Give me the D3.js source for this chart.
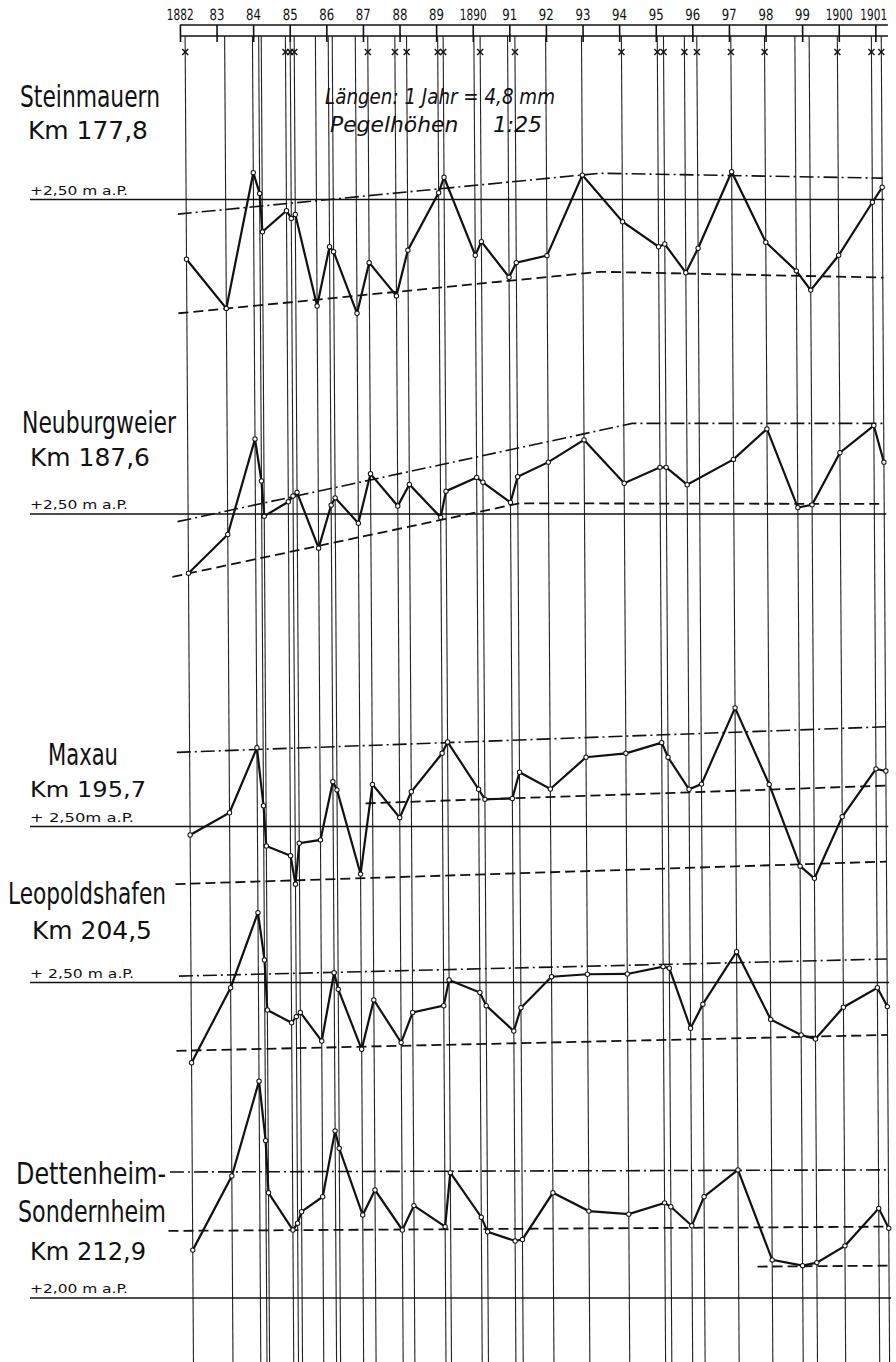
<!DOCTYPE html>
<html>
<head>
<meta charset="utf-8">
<script src="https://cdn.jsdelivr.net/npm/d3@7"></script>
<style>
body { margin: 0; background: #fff; }
svg { display: block; }
text { font-family: "DejaVu Sans Condensed", "Liberation Sans Narrow", sans-serif; fill: #111; }
</style>
</head>
<body>
<svg id="chart"></svg>
<script>

// data (water levels in cm a.P.)
const YEARS = [1882, 1883, 1884, 1885, 1886, 1887, 1888, 1889, 1890, 1891,
	1892, 1893, 1894, 1895, 1896, 1897, 1898, 1899, 1900, 1901];
const YEAR_LABELS = ['1882', '83', '84', '85', '86', '87', '88', '89', '1890', '91',
	'92', '93', '94', '95', '96', '97', '98', '99', '1900', '1901'];

const DATES = [1882.14, 1883.22, 1883.98, 1884.15, 1884.22, 1884.88, 1885.01, 1885.12,
	1885.70, 1886.05, 1886.16, 1886.79, 1887.13, 1887.87, 1888.19, 1889.04, 1889.19,
	1890.03, 1890.20, 1890.95, 1891.15, 1891.99, 1892.97, 1894.06, 1895.04, 1895.21,
	1895.78, 1896.12, 1897.05, 1897.97, 1898.80, 1899.19, 1899.96, 1900.89, 1901.16];
const MARK_DATES = [1882.14, 1884.88, 1885.01, 1885.12, 1887.13, 1887.87, 1888.19,
	1889.04, 1889.19, 1890.20, 1891.15, 1894.06, 1895.04, 1895.21, 1895.78, 1896.12,
	1897.05, 1897.97, 1899.96, 1900.89, 1901.16];

const STEINMAUERN = [230.4, 214.3, 258.8, 252.0, 239.4, 246.3, 243.8, 245.1, 215.1, 234.5,
	232.9, 212.7, 229.3, 218.4, 233.4, 252.2, 257.3, 231.7, 236.2, 224.5, 229.3, 231.6,
	258.0, 242.7, 234.5, 235.4, 226.0, 234.0, 259.1, 236.0, 226.6, 220.3, 231.7, 249.1, 254.0];
const NEUBURGWEIER = [230.6, 243.3, 274.6, 260.8, 249.3, 254.0, 255.9, 257.1, 238.8, 252.9,
	255.3, 247.0, 263.2, 252.6, 259.7, 248.9, 257.5, 262.0, 260.4, 253.8, 262.2, 267.0,
	274.3, 260.1, 265.3, 265.3, 259.6, null, 267.9, 277.9, 252.1, 253.0, 270.1, 279.0, 267.0];
const MAXAU = [247.2, 254.5, 275.8, 256.8, 243.6, 240.4, 231.1, 244.5, 245.6, 264.7,
	262.0, 234.4, 263.8, 252.9, 261.4, 274.0, 277.7, 262.2, 258.9, 259.2, 267.8, 262.3,
	272.7, 274.0, 277.5, 272.7, 262.2, 263.9, 288.9, 263.8, 237.0, 233.0, 253.2, 268.9, 268.2];
const LEOPOLDSHAFEN = [223.7, 248.3, 272.9, 257.4, 241.0, 236.8, 238.8, 240.2, 230.8, 253.2,
	247.8, 228.1, 244.3, 230.3, 240.2, 242.4, 250.8, 246.7, 242.4, 234.1, 241.7, 251.9,
	252.7, 252.8, 255.2, 254.7, 235.0, 242.9, 260.1, 237.9, 232.8, 231.5, 241.9, 248.3, 242.1];
const DETTENHEIM = [215.7, 240.0, 271.1, 251.6, 234.5, 222.3, 224.5, 228.3, 233.2, 254.8,
	249.1, 227.2, 235.4, 222.3, 230.3, 223.4, 241.1, 226.5, 221.7, 218.7, 219.2, 234.5,
	228.5, 227.5, 231.2, 229.9, 223.7, 233.2, 242.0, 212.5, 210.6, 211.6, 217.1, 229.4, 222.9];

// envelope lines [year, cm]
const STEIN_HIGH = [[1881.91, 245.2], [1893.45, 258.6], [1901.18, 257.0]];
const STEIN_LOW = [[1881.91, 212.7], [1893.45, 226.3], [1901.18, 224.4]];
const NEUB_HIGH = [[1881.85, 247.5], [1894.29, 279.7], [1901.17, 279.7]];
const NEUB_LOW = [[1881.70, 229.4], [1891.19, 253.5], [1901.17, 253.3]];
const MAXAU_HIGH = [[1881.79, 274.3], [1901.16, 282.7]];
const MAXAU_MID = [[1886.94, 257.6], [1901.16, 263.4]];
const MAXAU_LOW = [[1881.73, 231.1], [1901.16, 238.5]];
const LEOP_HIGH = [[1881.81, 252.1], [1901.16, 257.7]];
const LEOP_LOW = [[1881.73, 227.6], [1901.16, 232.8]];
const DETT_HIGH = [[1881.53, 241.3], [1901.09, 242.0]];
const DETT_LOW = [[1881.48, 222.0], [1901.13, 223.4]];
const DETT_LOW2 = [[1897.57, 210.3], [1901.13, 210.6]];

const REFS = [250, 250, 250, 250, 200];


// layout
const W = 896, H = 1362;
const SKEW = 0.0063, SKEW_Y0 = 40;
const PX_PER_CM = 3.05;
const REF_Y = [199.5, 514, 826.5, 982.5, 1298];
const DASH_DOT = '14,4,2,4', DASH = '10,5';

var stations = [
	{ values: STEINMAUERN, high: [STEIN_HIGH], low: [STEIN_LOW] },
	{ values: NEUBURGWEIER, high: [NEUB_HIGH], low: [NEUB_LOW] },
	{ values: MAXAU, high: [MAXAU_HIGH], low: [MAXAU_MID, MAXAU_LOW] },
	{ values: LEOPOLDSHAFEN, high: [LEOP_HIGH], low: [LEOP_LOW] },
	{ values: DETTENHEIM, high: [DETT_HIGH], low: [DETT_LOW, DETT_LOW2] }
];

var labels = [
	{ t: 'Steinmauern', x: 20, y: 107, s: 30, w: 140 },
	{ t: 'Km 177,8', x: 28, y: 139, s: 24, w: 120 },
	{ t: '+2,50 m a.P.', x: 30, y: 195, s: 12, w: 98 },
	{ t: 'Neuburgweier', x: 22, y: 433, s: 30, w: 154 },
	{ t: 'Km 187,6', x: 30, y: 466, s: 24, w: 120 },
	{ t: '+2,50 m a.P.', x: 30, y: 509, s: 12, w: 98 },
	{ t: 'Maxau', x: 48, y: 765, s: 30, w: 70 },
	{ t: 'Km 195,7', x: 30, y: 797, s: 22, w: 116 },
	{ t: '+ 2,50m a.P.', x: 30, y: 822, s: 12, w: 104 },
	{ t: 'Leopoldshafen', x: 8, y: 904, s: 30, w: 158 },
	{ t: 'Km 204,5', x: 32, y: 939, s: 24, w: 120 },
	{ t: '+ 2,50 m a.P.', x: 30, y: 978, s: 12, w: 104 },
	{ t: 'Dettenheim-', x: 16, y: 1184, s: 30, w: 150 },
	{ t: 'Sondernheim', x: 18, y: 1222, s: 30, w: 148 },
	{ t: 'Km 212,9', x: 30, y: 1260, s: 24, w: 116 },
	{ t: '+2,00 m a.P.', x: 30, y: 1293, s: 12, w: 98 }
];

var x = d3.scaleLinear().domain([1882, 1901]).range([180, 875.4]);

var svg = d3.select('#chart').attr('width', W).attr('height', H);
svg.append('rect').attr('width', W).attr('height', H).attr('fill', '#fff');

// whole drawing leans slightly to the right
var plot = svg.append('g')
	.attr('transform', 'matrix(1,0,' + SKEW + ',1,' + (-SKEW * SKEW_Y0) + ',0)');

// top time axis
plot.append('line').attr('x1', 180).attr('x2', 888).attr('y1', 25).attr('y2', 25)
	.attr('stroke', '#111').attr('stroke-width', 1.3);
plot.append('line').attr('x1', 180).attr('x2', 888).attr('y1', 36).attr('y2', 36)
	.attr('stroke', '#111').attr('stroke-width', 1.3);

var axis = d3.axisTop(x)
	.tickValues(YEARS)
	.tickFormat(function(d, i) { return YEAR_LABELS[i]; })
	.tickSize(17)
	.tickSizeOuter(0)
	.tickPadding(5);
var ax = plot.append('g').attr('transform', 'translate(0,42)').call(axis);
ax.select('.domain').remove();
ax.selectAll('line').attr('stroke', '#111').attr('stroke-width', 1.6);
ax.selectAll('text')
	.style('font-family', '"DejaVu Sans Condensed", sans-serif')
	.style('font-size', '15.5px')
	.attr('fill', '#111')
	.attr('dx', function(d, i) { return i == YEAR_LABELS.length - 1 ? -2 : 0; })
	.attr('textLength', function(d, i) { return YEAR_LABELS[i].length > 2 ? 27 : 15; })
	.attr('lengthAdjust', 'spacingAndGlyphs');

// vertical lines of the measurement dates
plot.append('g').selectAll('line')
	.data(DATES)
	.enter()
	.append('line')
	.attr('x1', function(d) { return x(d); })
	.attr('x2', function(d) { return x(d); })
	.attr('y1', 36)
	.attr('y2', H)
	.attr('stroke', '#222')
	.attr('stroke-width', 1.1);

// crosses under the axis
plot.append('g').selectAll('path')
	.data(MARK_DATES)
	.enter()
	.append('path')
	.attr('d', function(d) {
		var cx = x(d), cy = 52;
		return 'M' + (cx - 3) + ',' + (cy - 3) + 'L' + (cx + 3) + ',' + (cy + 3) +
			'M' + (cx - 3) + ',' + (cy + 3) + 'L' + (cx + 3) + ',' + (cy - 3);
	})
	.attr('stroke', '#111')
	.attr('stroke-width', 1.4);

// stations
stations.forEach(function(st, i) {
	var refY = REF_Y[i];
	var ref = REFS[i];
	var y = d3.scaleLinear().domain([ref, ref + 100]).range([refY, refY - 100 * PX_PER_CM]);

	// reference line (drawn straight, outside the lean)
	svg.append('line')
		.attr('x1', 30)
		.attr('x2', x(1901.16) + SKEW * (refY - SKEW_Y0) + 2)
		.attr('y1', refY).attr('y2', refY)
		.attr('stroke', '#111').attr('stroke-width', 1.3);

	var env = d3.line().x(function(d) { return x(d[0]); }).y(function(d) { return y(d[1]); });
	st.high.forEach(function(h) {
		plot.append('path').attr('d', env(h))
			.attr('fill', 'none').attr('stroke', '#111')
			.attr('stroke-width', 1.6).attr('stroke-dasharray', DASH_DOT);
	});
	st.low.forEach(function(l) {
		plot.append('path').attr('d', env(l))
			.attr('fill', 'none').attr('stroke', '#111')
			.attr('stroke-width', 1.8).attr('stroke-dasharray', DASH);
	});

	var pts = DATES.map(function(d, j) { return [d, st.values[j]]; })
		.filter(function(p) { return p[1] != null; });

	plot.append('path').attr('d', env(pts))
		.attr('fill', 'none').attr('stroke', '#111').attr('stroke-width', 2.2);

	plot.append('g').selectAll('circle')
		.data(pts)
		.enter()
		.append('circle')
		.attr('cx', function(d) { return x(d[0]); })
		.attr('cy', function(d) { return y(d[1]); })
		.attr('r', 2.2)
		.attr('fill', '#fff')
		.attr('stroke', '#111')
		.attr('stroke-width', 1);
});

// station names
svg.append('g').selectAll('text')
	.data(labels)
	.enter()
	.append('text')
	.attr('x', function(d) { return d.x; })
	.attr('y', function(d) { return d.y; })
	.attr('textLength', function(d) { return d.w; })
	.attr('lengthAdjust', 'spacingAndGlyphs')
	.style('font-size', function(d) { return d.s + 'px'; })
	.text(function(d) { return d.t; });

// scale note
svg.append('text')
	.attr('x', 325).attr('y', 104)
	.attr('textLength', 230).attr('lengthAdjust', 'spacingAndGlyphs')
	.style('font-size', '22px').style('font-style', 'italic')
	.text('Längen: 1 Jahr = 4,8 mm');
svg.append('text')
	.attr('x', 330).attr('y', 132)
	.attr('textLength', 212).attr('lengthAdjust', 'spacingAndGlyphs')
	.style('font-size', '22px').style('font-style', 'italic')
	.attr('xml:space', 'preserve')
	.text('Pegelhöhen     1:25');

</script>
</body>
</html>
